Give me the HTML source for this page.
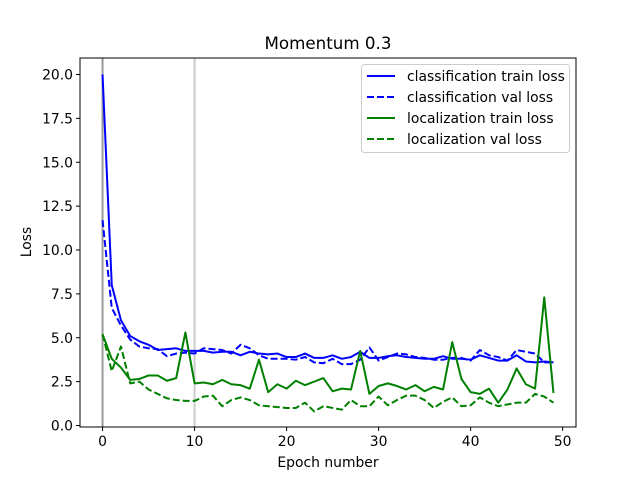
<!DOCTYPE html>
<html><head><meta charset="utf-8"><style>
body{margin:0;background:#fff}
svg{font-family:"DejaVu Sans","Liberation Sans",sans-serif}
</style></head><body>
<svg id="c" width="640" height="480"></svg>
<script>
const epochs=[...Array(50).keys()];
const clsTrain=[20.0,8.0,6.0,5.1,4.8,4.6,4.3,4.35,4.4,4.25,4.25,4.25,4.15,4.2,4.2,4.0,4.2,4.1,4.05,4.1,3.9,3.9,4.1,3.85,3.85,4.0,3.8,3.9,4.2,3.85,3.85,3.95,4.0,3.9,3.85,3.8,3.8,3.95,3.8,3.8,3.75,4.0,3.85,3.7,3.7,4.0,3.65,3.6,3.65,3.6];
const clsVal=[11.7,6.7,5.7,4.9,4.5,4.4,4.35,3.95,4.1,4.15,4.1,4.4,4.35,4.3,4.1,4.6,4.4,4.0,3.8,3.8,3.8,3.75,3.9,3.6,3.55,3.8,3.5,3.5,3.75,4.45,3.7,3.9,4.1,4.05,3.9,3.85,3.75,3.75,3.85,3.85,3.7,4.3,4.0,3.9,3.7,4.3,4.2,4.1,3.6,3.6];
const locTrain=[5.2,3.8,3.3,2.6,2.65,2.85,2.85,2.55,2.7,5.3,2.4,2.45,2.35,2.6,2.35,2.3,2.1,3.75,1.9,2.35,2.1,2.55,2.3,2.5,2.7,1.95,2.1,2.05,4.25,1.8,2.25,2.4,2.25,2.05,2.3,1.95,2.2,2.05,4.75,2.65,1.9,1.8,2.1,1.3,2.05,3.25,2.35,2.1,7.3,1.85];
const locVal=[5.2,3.1,4.5,2.4,2.5,2.05,1.8,1.55,1.45,1.4,1.4,1.65,1.7,1.1,1.45,1.6,1.45,1.15,1.1,1.05,1.0,1.0,1.3,0.8,1.1,1.0,0.9,1.45,1.1,1.1,1.65,1.15,1.45,1.7,1.7,1.45,1.0,1.35,1.6,1.1,1.15,1.6,1.3,1.1,1.2,1.3,1.3,1.8,1.65,1.3];
const xTicks=[0,10,20,30,40,50];
const yTicks=[0,2.5,5,7.5,10,12.5,15,17.5,20];
const vlines=[0,10];

const L=80,R=576,T=58,B=427;
const X=v=>L+(v+2.45)/53.9*(R-L);
const Y=v=>425.5-v*17.55;
const s=document.getElementById('c');
const NS='http://www.w3.org/2000/svg';
function mk(tag,attrs,parent){const e=document.createElementNS(NS,tag);for(const k in attrs)e.setAttribute(k,attrs[k]);(parent||s).appendChild(e);return e;}

const vc=['#999','#ccc'];
vlines.forEach((v,i)=>{const l=mk('line',{x1:X(v),x2:X(v),y1:T,y2:B,stroke:vc[i],'stroke-width':2});

});

function series(vals,color,dash,name){
 const p=mk('polyline',{points:vals.map((v,i)=>X(epochs[i])+','+Y(v)).join(' '),fill:'none',stroke:color,'stroke-width':2,'stroke-dasharray':dash||'none','stroke-linejoin':'round'});
 
 
}
series(clsTrain,'#0000ff',null,'classification-train-line');
series(clsVal,'#0000ff','7,3','classification-val-line');
series(locTrain,'#008000',null,'localization-train-line');
series(locVal,'#008000','7,3','localization-val-line');

const fr=mk('rect',{x:L,y:T,width:R-L,height:B-T,fill:'none',stroke:'#000','stroke-width':1});



xTicks.forEach(t=>{mk('line',{x1:X(t),x2:X(t),y1:B,y2:B+4,stroke:'#000'});
 const tx=mk('text',{x:X(t),y:B+19,'text-anchor':'middle','font-size':13.9});tx.textContent=t;
 
 });
yTicks.forEach(t=>{mk('line',{x1:L-4,x2:L,y1:Y(t),y2:Y(t),stroke:'#000'});
 const tx=mk('text',{x:L-7,y:Y(t)+5,'text-anchor':'end','font-size':13.9});tx.textContent=t.toFixed(1);
 
 });
</script>
<svg width="640" height="480" style="position:absolute;left:0;top:0">
<text x="328" y="49" text-anchor="middle" font-size="16.7">Momentum 0.3</text>
<text x="328" y="467" text-anchor="middle" font-size="13.9">Epoch number</text>
<text x="31" y="242" text-anchor="middle" font-size="13.9" transform="rotate(-90 31 242)">Loss</text>
<g>
<rect x="361.5" y="64.5" width="208" height="88" rx="3" fill="#fff" fill-opacity="0.8" stroke="#ccc"/>
<g><line x1="367" x2="395" y1="76" y2="76" stroke="#0000ff" stroke-width="2"/><text x="407" y="81" font-size="13.9">classification train loss</text></g>
<g><line x1="367" x2="395" y1="97" y2="97" stroke="#0000ff" stroke-width="2" stroke-dasharray="7,3"/><text x="407" y="102" font-size="13.9">classification val loss</text></g>
<g><line x1="367" x2="395" y1="118" y2="118" stroke="#008000" stroke-width="2"/><text x="407" y="123" font-size="13.9">localization train loss</text></g>
<g><line x1="367" x2="395" y1="139" y2="139" stroke="#008000" stroke-width="2" stroke-dasharray="7,3"/><text x="407" y="144" font-size="13.9">localization val loss</text></g>
</g>
</svg>
</body></html>
